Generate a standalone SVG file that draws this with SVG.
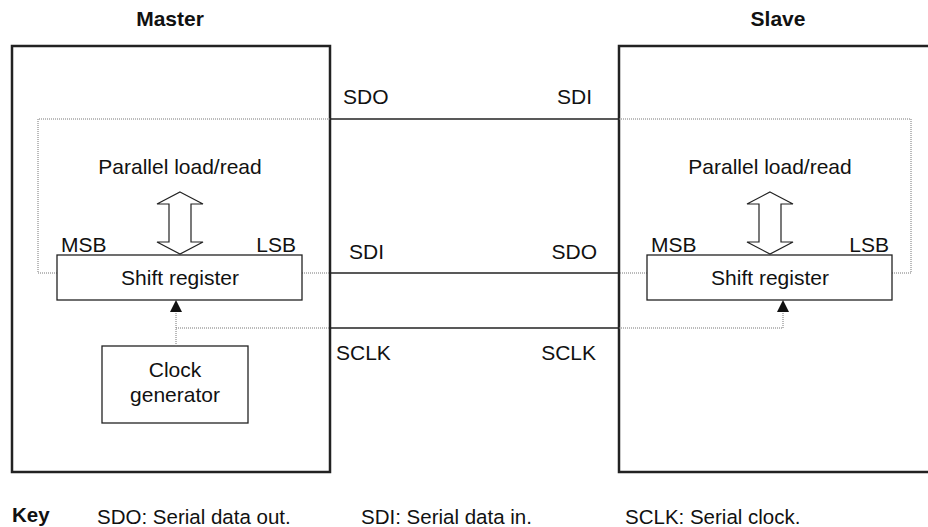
<svg xmlns="http://www.w3.org/2000/svg" width="928" height="527" viewBox="0 0 928 527">
<style>
text{font-family:"Liberation Sans",Arial,sans-serif;font-size:21px;fill:#111}
.b{font-weight:bold}
.k{font-size:20.5px}
.box{fill:none;stroke:#222;stroke-width:2.5}
.blk{fill:#fff;stroke:#222;stroke-width:1.3}
.dot{fill:none;stroke:#777;stroke-width:1;stroke-dasharray:1,1}
.wire{fill:none;stroke:#222;stroke-width:1.5}
.par{fill:#fff;stroke:#222;stroke-width:1.2}
</style>
<defs>
<marker id="ah" viewBox="0 0 12 12" refX="12" refY="6" markerWidth="12" markerHeight="12" markerUnits="userSpaceOnUse" orient="auto">
<path d="M0,0 L12,6 L0,12 Z" fill="#111"/>
</marker>
</defs>
<rect width="928" height="527" fill="#fff"/>

<g id="master">
<rect class="box" x="12" y="46" width="318" height="426"/>
<text class="b" x="170" y="26" text-anchor="middle">Master</text>
<path class="dot" d="M330,119 H38 V273 H57 M302,273 H330"/>
<text x="180" y="174" text-anchor="middle">Parallel load/read</text>
<polygon class="par" points="180,192 203,204 191,204 191,242 203,242 180,254 157,242 169,242 169,204 157,204"/>
<text x="61" y="252">MSB</text>
<text x="296" y="252" text-anchor="end">LSB</text>
</g>
<g id="master-shift">
<rect class="blk" x="57" y="255" width="245" height="45"/>
<text x="180" y="285" text-anchor="middle">Shift register</text>
</g>
<g id="clock">
<rect class="blk" x="102" y="346" width="146" height="77"/>
<text x="175" y="377" text-anchor="middle">Clock</text>
<text x="175" y="402" text-anchor="middle">generator</text>
</g>

<g id="slave">
<rect class="box" x="619" y="46" width="320" height="426"/>
<text class="b" x="778" y="26" text-anchor="middle">Slave</text>
<path class="dot" d="M619,119 H911 V273 H892 M647,273 H619"/>
<text x="770" y="174" text-anchor="middle">Parallel load/read</text>
<polygon class="par" points="770,192 793,204 781,204 781,242 793,242 770,254 747,242 759,242 759,204 747,204"/>
<text x="651" y="252">MSB</text>
<text x="889" y="252" text-anchor="end">LSB</text>
</g>
<g id="slave-shift">
<rect class="blk" x="647" y="255" width="245" height="45"/>
<text x="770" y="285" text-anchor="middle">Shift register</text>
</g>

<g id="connectors">
<line class="wire" x1="330" y1="119" x2="619" y2="119"/>
<line class="wire" x1="330" y1="273" x2="619" y2="273"/>
<line class="wire" x1="330" y1="328" x2="619" y2="328"/>
<path class="dot" d="M176,346 V312"/>
<path class="dot" d="M176,328 H330"/>
<line x1="176" y1="313" x2="176" y2="300" stroke="none" marker-end="url(#ah)"/>
<path class="dot" d="M619,328 H783 V312"/>
<line x1="783" y1="313" x2="783" y2="300" stroke="none" marker-end="url(#ah)"/>
<text x="343" y="104">SDO</text>
<text x="592" y="104" text-anchor="end">SDI</text>
<text x="349" y="259">SDI</text>
<text x="597" y="259" text-anchor="end">SDO</text>
<text x="336" y="360">SCLK</text>
<text x="596" y="360" text-anchor="end">SCLK</text>
</g>

<g id="key">
<text class="b k" x="12" y="522">Key</text>
<text class="k" x="97" y="524">SDO: Serial data out.</text>
<text class="k" x="361" y="524">SDI: Serial data in.</text>
<text class="k" x="625" y="524">SCLK: Serial clock.</text>
</g>
</svg>
